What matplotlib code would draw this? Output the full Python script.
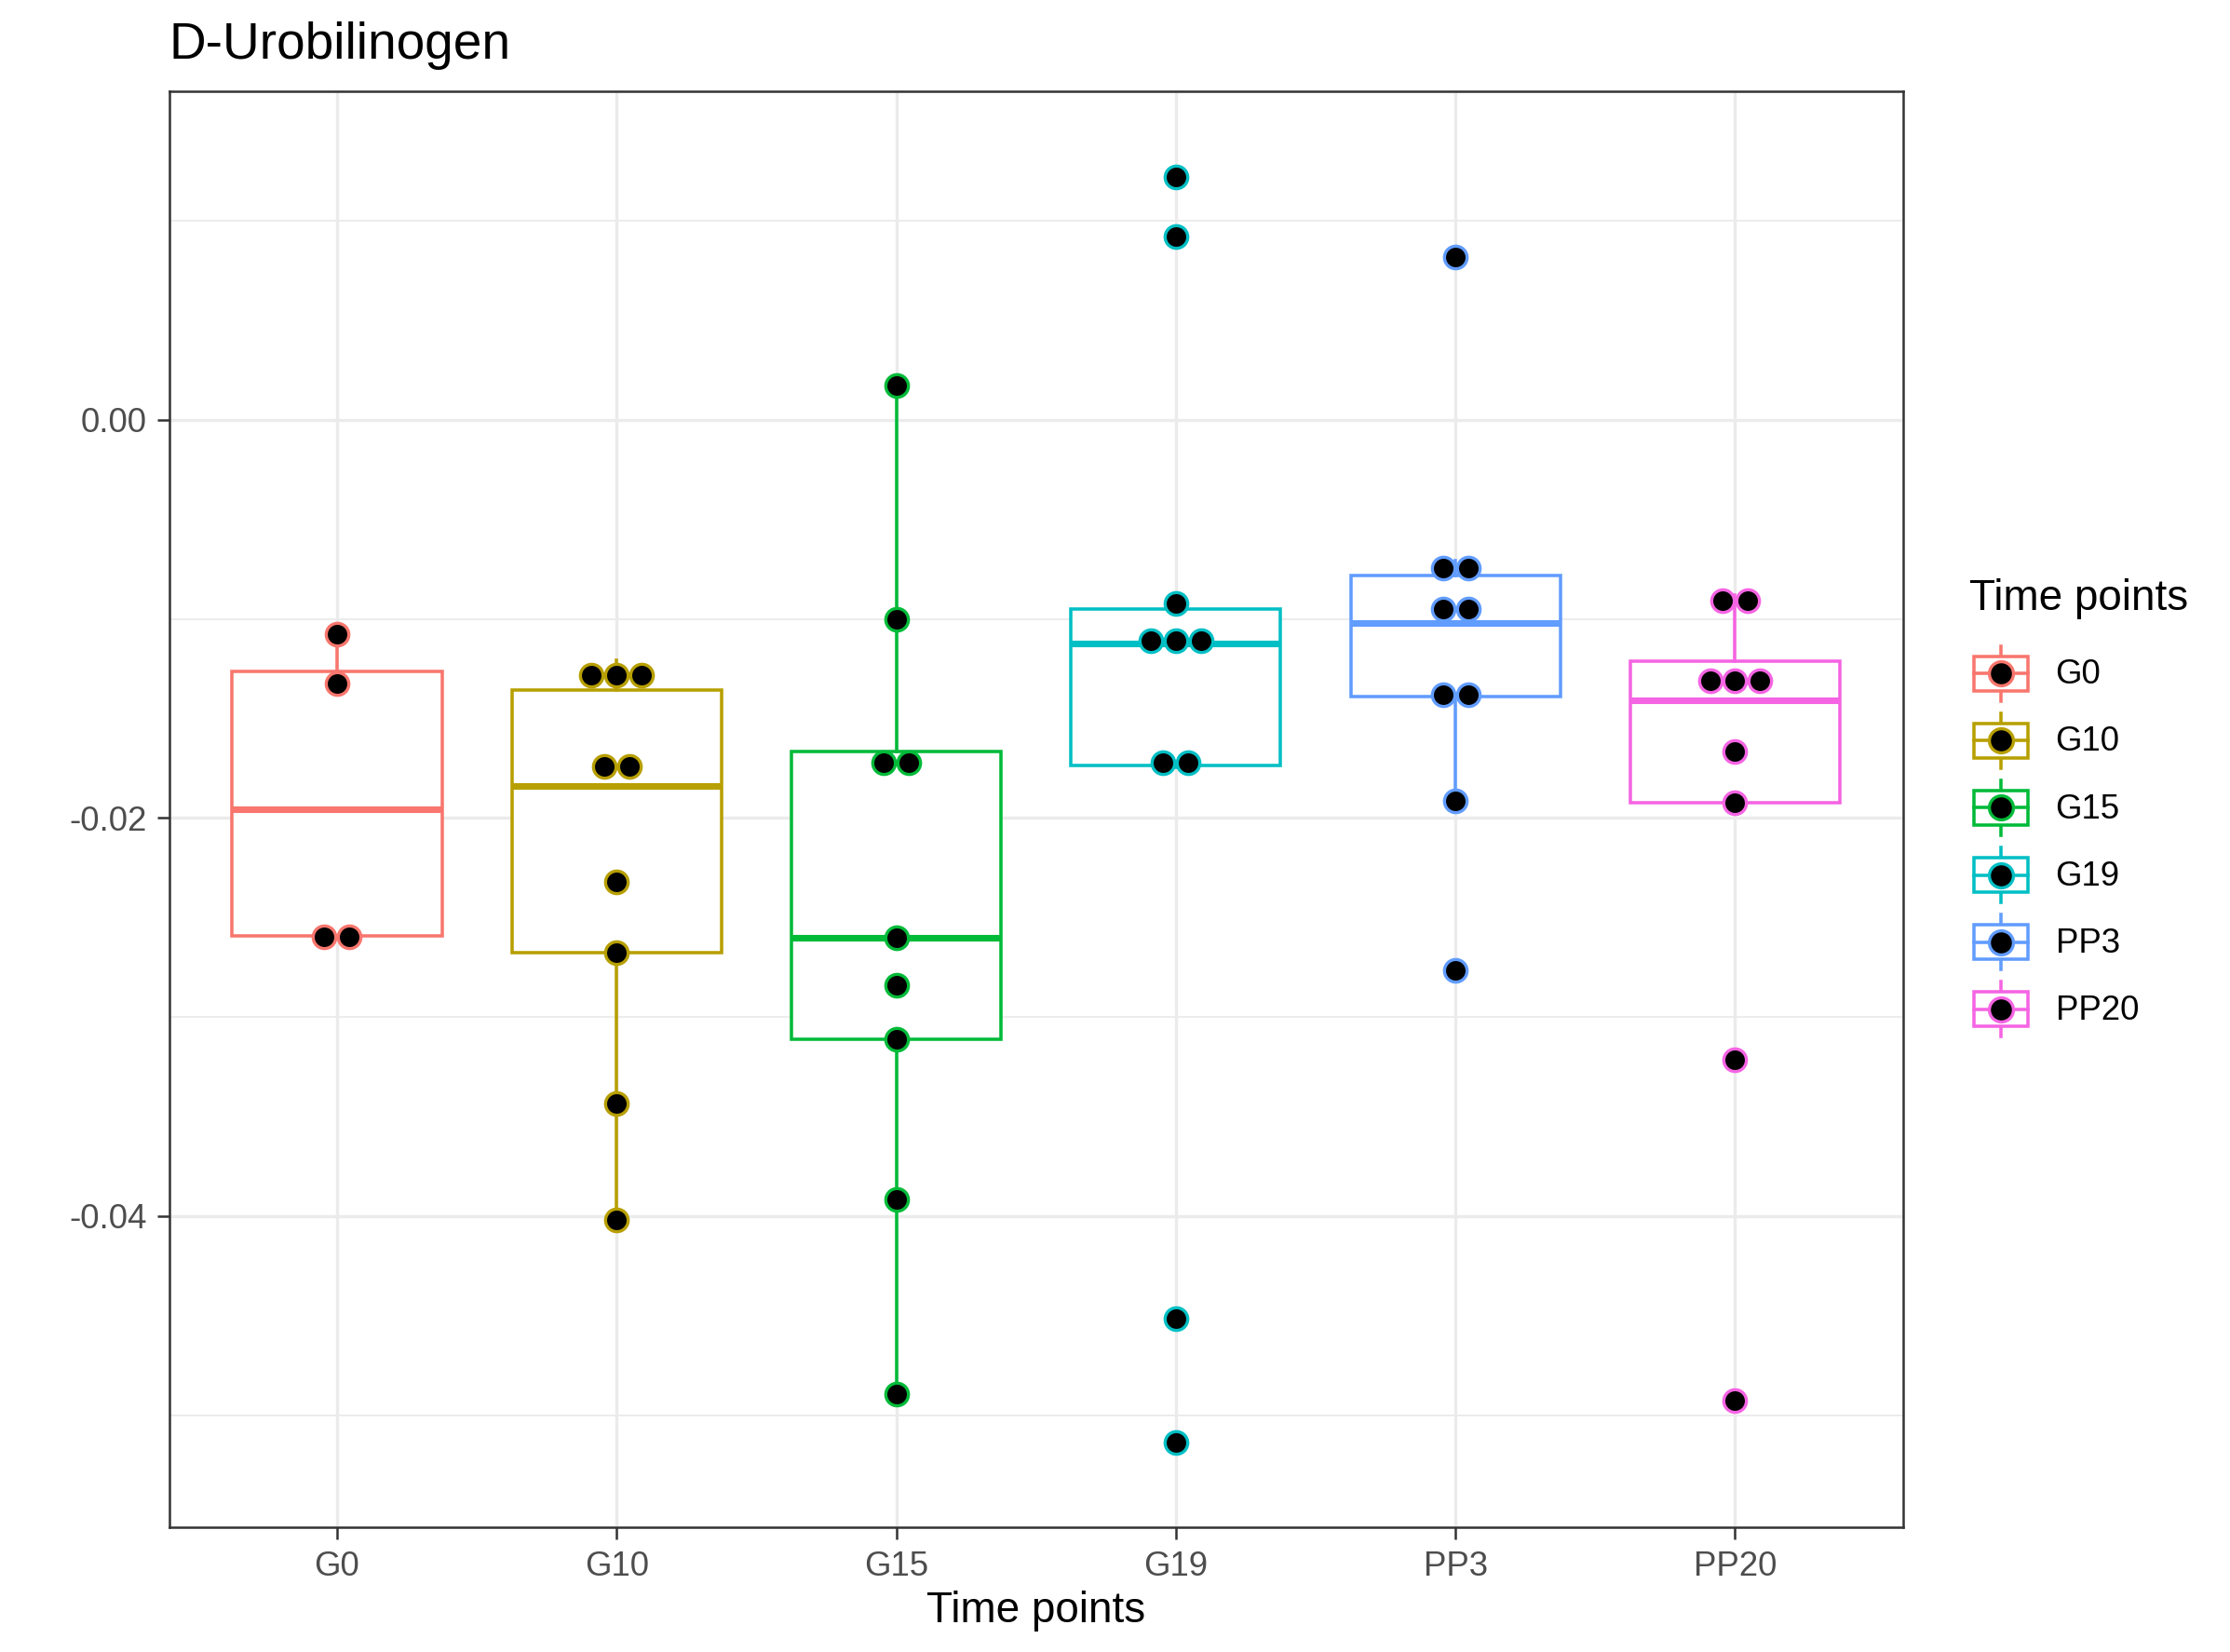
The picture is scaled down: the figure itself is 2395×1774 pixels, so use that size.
import numpy as np
import matplotlib.pyplot as plt
from matplotlib.legend_handler import HandlerBase
from matplotlib.patches import Patch, Rectangle
from matplotlib.lines import Line2D

plt.rcParams['font.family'] = ['Liberation Sans', 'DejaVu Sans']

groups = ['G0', 'G10', 'G15', 'G19', 'PP3', 'PP20']
colors = ['#F8766D', '#B79F00', '#00BA38', '#00BFC4', '#619CFF', '#F564E3']

g0 = [-0.01075, -0.01326, -0.0259, -0.0260]
g10 = [-0.04021, -0.03436, -0.02677, -0.02322, -0.01839, -0.01645, -0.01355, -0.0128, -0.01209]
g15 = [0.00172, -0.01004, -0.01668, -0.0178, -0.0260, -0.02838, -0.03113, -0.03916, -0.04896]
g19 = [0.01221, 0.00923, -0.0092, -0.01044, -0.01072, -0.01176, -0.01704, -0.01744, -0.04513, -0.05137]
pp3 = [0.00818, -0.00709, -0.00783, -0.00876, -0.01022, -0.01373, -0.01391, -0.01914, -0.02764]
pp20 = [-0.0088, -0.0094, -0.01211, -0.0130, -0.01408, -0.01666, -0.01924, -0.03216, -0.04929]
values = [g0, g10, g15, g19, pp3, pp20]


def dot_bins(vals, bw):
    # same idea as ggplot's dotdensity binning
    v = np.sort(vals)
    bins = []
    binend = -np.inf
    for x in v:
        if x >= binend:
            bins.append([x])
            binend = x + bw
        else:
            bins[-1].append(x)
    return [((min(b) + max(b)) / 2, len(b)) for b in bins]


class BoxKey(HandlerBase):
    def create_artists(self, legend, orig_handle, xdescent, ydescent, width, height, fontsize, trans):
        c = orig_handle.get_edgecolor()
        x0, y0 = -xdescent, -ydescent
        cx, cy = x0 + width / 2, y0 + height / 2
        whisk = Line2D([cx, cx], [y0 + 0.09 * height, y0 + 0.91 * height], color=c, lw=0.85, transform=trans)
        rect = Rectangle((x0 + 0.1 * width, y0 + 0.24 * height), 0.8 * width, 0.52 * height,
                         facecolor='white', edgecolor=c, lw=0.85, transform=trans)
        med = Line2D([x0 + 0.1 * width, x0 + 0.9 * width], [cy, cy], color=c, lw=0.85, transform=trans)
        dot = Line2D([cx], [cy], marker='o', markersize=6.2, markerfacecolor='black',
                     markeredgecolor=c, markeredgewidth=0.8, transform=trans)
        return [whisk, rect, med, dot]


fig = plt.figure(figsize=(2395 / 300, 1774 / 300), dpi=300)
ax = fig.add_axes([0.0759, 0.0753, 0.7774, 0.8696])

pos = np.arange(1, len(groups) + 1)
for i, (vals, c) in enumerate(zip(values, colors)):
    ax.boxplot(vals, positions=[pos[i]], widths=0.75, whis=1.5, showfliers=False, showcaps=False,
               patch_artist=True,
               boxprops=dict(facecolor='white', edgecolor=c, linewidth=0.85),
               whiskerprops=dict(color=c, linewidth=0.85),
               medianprops=dict(color=c, linewidth=1.7, solid_capstyle='butt'),
               zorder=2)

allv = np.concatenate(values)
bw = (allv.max() - allv.min()) / 30
step = 0.0897
for i, (vals, c) in enumerate(zip(values, colors)):
    for center, n in dot_bins(vals, bw):
        xs = pos[i] + (np.arange(n) - (n - 1) / 2) * step
        ax.scatter(xs, [center] * n, s=34, facecolor='black', edgecolor=c, linewidth=0.8, zorder=3)

ax.set_xlim(0.4, 6.6)
ax.set_ylim(-0.05565, 0.01652)
ax.set_xticks(pos)
ax.set_xticklabels(groups)
ax.set_yticks([-0.04, -0.02, 0.0])
ax.set_yticklabels(['-0.04', '-0.02', '0.00'])
ax.set_yticks([-0.05, -0.03, -0.01, 0.01], minor=True)
ax.tick_params(axis='both', which='major', length=3.2, width=0.6, color='#333333',
               labelsize=8.8, labelcolor='#4D4D4D', pad=2.6)
ax.tick_params(axis='both', which='minor', length=0)
ax.grid(True, which='major', color='#EBEBEB', linewidth=0.8, zorder=0)
ax.grid(True, which='minor', axis='y', color='#EBEBEB', linewidth=0.45, zorder=0)
ax.set_axisbelow(True)
for sp in ax.spines.values():
    sp.set_color('#333333')
    sp.set_linewidth(0.6)

ax.set_xlabel('Time points', fontsize=11, labelpad=2)
fig.text(0.0759, 1 - 63 / 1774, 'D-Urobilinogen', fontsize=13.2, ha='left', va='baseline')

# legend: keys through a custom handler, title placed separately
handles = [Patch(edgecolor=c, facecolor='white') for c in colors]
leg = fig.legend(handles, groups, handler_map={Patch: BoxKey()}, loc='center left',
                 bbox_to_anchor=(2113 / 2395, 1 - 903.5 / 1774), bbox_transform=fig.transFigure,
                 frameon=False, fontsize=8.8, handlelength=1.96, handleheight=2.648,
                 labelspacing=0.0, handletextpad=0.62, borderpad=0, borderaxespad=0)
fig.text(2115 / 2395, 1 - 643 / 1774, 'Time points', fontsize=11, ha='left', va='center')

fig.savefig('out.png', dpi=300)
